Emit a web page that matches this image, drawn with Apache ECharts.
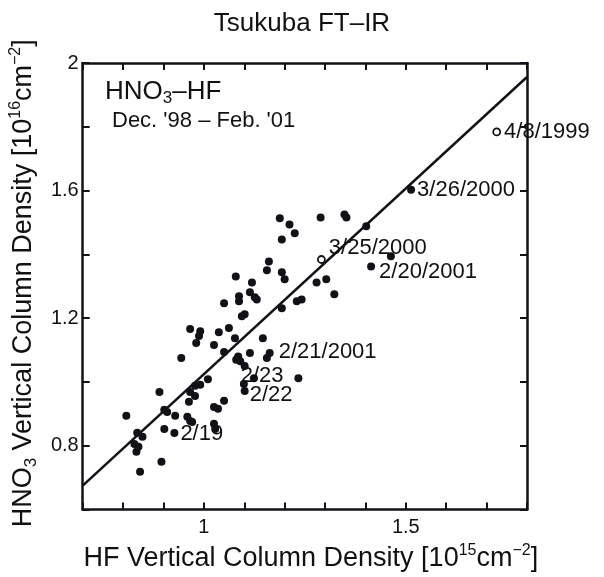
<!DOCTYPE html>
<html>
<head>
<meta charset="utf-8">
<script src="https://cdn.jsdelivr.net/npm/echarts@6/dist/echarts.min.js"></script>
<style>html,body{margin:0;padding:0;background:#fff}#c{width:604px;height:577px}</style>
</head>
<body>
<div id="c"></div>
<script>
// HF column (1e15 cm^-2) and HNO3 column (1e16 cm^-2)
const hfValues = [1.188,1.212,1.225,1.193,1.289,1.348,1.353,1.402,1.161,1.156,1.193,1.200,1.279,1.303,1.079,1.119,1.114,1.126,1.131,1.087,1.087,1.050,1.230,1.242,1.193,1.101,1.094,0.966,0.991,0.988,0.981,1.037,1.062,1.025,1.077,1.146,1.050,0.944,1.085,1.080,1.090,1.114,1.156,1.124,1.234,1.010,0.991,0.978,0.966,0.978,0.963,0.890,1.050,1.025,1.035,0.902,0.909,0.929,0.959,0.966,0.971,0.808,0.902,1.025,1.028,0.835,0.848,0.842,0.895,0.828,0.838,0.833,1.323,1.463,1.099];
const hno3Values = [1.513,1.494,1.466,1.447,1.516,1.525,1.516,1.488,1.378,1.350,1.344,1.322,1.312,1.322,1.331,1.312,1.281,1.266,1.259,1.269,1.253,1.247,1.253,1.259,1.231,1.212,1.206,1.166,1.159,1.144,1.122,1.156,1.169,1.116,1.137,1.137,1.094,1.075,1.080,1.070,1.065,1.091,1.075,1.012,1.012,1.009,0.991,0.988,0.969,0.956,0.938,0.969,0.941,0.922,0.916,0.913,0.906,0.894,0.891,0.878,0.875,0.894,0.853,0.869,0.853,0.841,0.828,0.719,0.750,0.806,0.797,0.781,1.275,1.394,0.994];
// labelled dates
const dateNames = ['4/8/1999','3/26/2000','3/25/2000','2/20/2001','2/21/2001','2/23','2/22','2/19'];
const dateHF = [1.725,1.513,1.291,1.414,1.163,1.101,1.101,0.927];
const dateHNO3 = [1.784,1.603,1.384,1.362,1.091,1.050,0.972,0.840];
const openDates = ['4/8/1999','3/25/2000'];
// regression line end points
const fitHF = [0.7, 1.8];
const fitHNO3 = [0.675, 1.956];
// tick labels
const xTickLabels = ['1','1.5'];
const yTickLabels = ['0.8','1.2','1.6','2'];

const FONT = 'Liberation Sans, Arial, Helvetica, sans-serif';
const INK = '#141018';

const labelStyle = {
  '4/8/1999':  {distance:3, offset:[0,0]},
  '3/26/2000': {distance:2, offset:[0,0]},
  '3/25/2000': {distance:3, offset:[0,-12]},
  '2/20/2001': {distance:4, offset:[0,5]},
  '2/21/2001': {distance:5, offset:[0,-1]},
  '2/23':      {distance:-8, offset:[0,10]},
  '2/22':      {distance:1, offset:[0,4]},
  '2/19':      {distance:2, offset:[0,1]}
};

const pts = hfValues.map((x,i)=>[x, hno3Values[i]]);
const datePts = dateNames.map((n,i)=>{
  const open = openDates.indexOf(n) >= 0;
  const ls = labelStyle[n];
  return {
    name: n,
    value: [dateHF[i], dateHNO3[i]],
    symbolSize: open ? 7 : 8,
    itemStyle: open ? {color:'#fff', borderColor: INK, borderWidth: 1.8, opacity:1} : {color: INK, opacity:1},
    label: {show:true, formatter:n, position:'right', distance: ls.distance, offset: ls.offset,
      fontFamily: FONT, fontSize: 22, color: '#111', opacity:1}
  };
});
const fitLine = fitHF.map((x,i)=>[x, fitHNO3[i]]);

function fmtX(v){ const i = xTickLabels.findIndex(t=>Math.abs(parseFloat(t)-v)<1e-6); return i>=0 ? xTickLabels[i] : ''; }
function fmtY(v){ const i = yTickLabels.findIndex(t=>Math.abs(parseFloat(t)-v)<1e-6); return i>=0 ? yTickLabels[i] : ''; }

const axisLine = {show:true, lineStyle:{color: INK, width: 2.5}};
const axisTick = {show:true, inside:true, length:7, lineStyle:{color: INK, width: 2}};

const chart = echarts.init(document.getElementById('c'), null, {renderer:'canvas'});
chart.setOption({
  animation:false,
  backgroundColor:'#fff',
  title:[
    {text:'Tsukuba FT–IR', left:'center', top:6, textStyle:{fontFamily:FONT, fontSize:26, fontWeight:'normal', color:'#111'}},
    {text:'{t|HNO}{s|3}{t|–HF}', left:100, top:72, textStyle:{rich:{
      t:{fontFamily:FONT, fontSize:26, fontWeight:'normal', color:'#111', lineHeight:30},
      s:{fontFamily:FONT, fontSize:17, fontWeight:'normal', color:'#111', lineHeight:22, verticalAlign:'bottom', padding:[12,0,0,0]}}}},
    {text:"Dec. '98 – Feb. '01", left:107, top:105, textStyle:{fontFamily:FONT, fontSize:22, fontWeight:'normal', color:'#111'}}
  ],
  grid:{left:80, right:77, top:63, bottom:66, show:false},
  xAxis:[
    {type:'value', min:0.7, max:1.8, interval:0.1, position:'bottom',
     axisLine, axisTick, splitLine:{show:false},
     axisLabel:{formatter:fmtX, margin:8, fontFamily:FONT, fontSize:20, color:'#111', showMinLabel:true, showMaxLabel:true},
     name:'{t|HF Vertical Column Density [10}{sup|15}{t|cm}{sup|−2}{t|]}', nameLocation:'middle', nameGap:31,
     nameTextStyle:{padding:[0,0,0,12], rich:{
       t:{fontFamily:FONT, fontSize:27, color:'#111', lineHeight:32},
       sup:{fontFamily:FONT, fontSize:16, color:'#111', verticalAlign:'top', padding:[0,0,12,0]}}}
    },
    {type:'value', min:0.7, max:1.8, interval:0.1, position:'top',
     axisLine, axisTick, splitLine:{show:false}, axisLabel:{show:false}}
  ],
  yAxis:[
    {type:'value', min:0.6, max:2.0, interval:0.2, position:'left',
     axisLine, axisTick, splitLine:{show:false},
     axisLabel:{formatter:fmtY, margin:4, fontFamily:FONT, fontSize:20, color:'#111', showMinLabel:true, showMaxLabel:true},
     name:'{t|HNO}{sub|3}{t| Vertical Column Density [10}{sup|16}{t|cm}{sup|−2}{t|]}', nameLocation:'middle', nameGap:24, nameRotate:90,
     nameTextStyle:{padding:[0,0,0,6], rich:{
       t:{fontFamily:FONT, fontSize:27, color:'#111', lineHeight:32},
       sub:{fontFamily:FONT, fontSize:17, color:'#111', verticalAlign:'bottom', padding:[10,0,0,0]},
       sup:{fontFamily:FONT, fontSize:16, color:'#111', verticalAlign:'top', padding:[0,0,12,0]}}}
    },
    {type:'value', min:0.6, max:2.0, interval:0.2, position:'right',
     axisLine, axisTick, splitLine:{show:false}, axisLabel:{show:false}}
  ],
  series:[
    {type:'line', data:fitLine, symbol:'none', lineStyle:{color:INK, width:2.5}, z:2, silent:true},
    {type:'scatter', data:pts, symbol:'circle', symbolSize:8, itemStyle:{color:INK, opacity:1}, z:3},
    {type:'scatter', data:datePts, symbol:'circle', itemStyle:{opacity:1}, z:4}
  ]
});
</script>
</body>
</html>
